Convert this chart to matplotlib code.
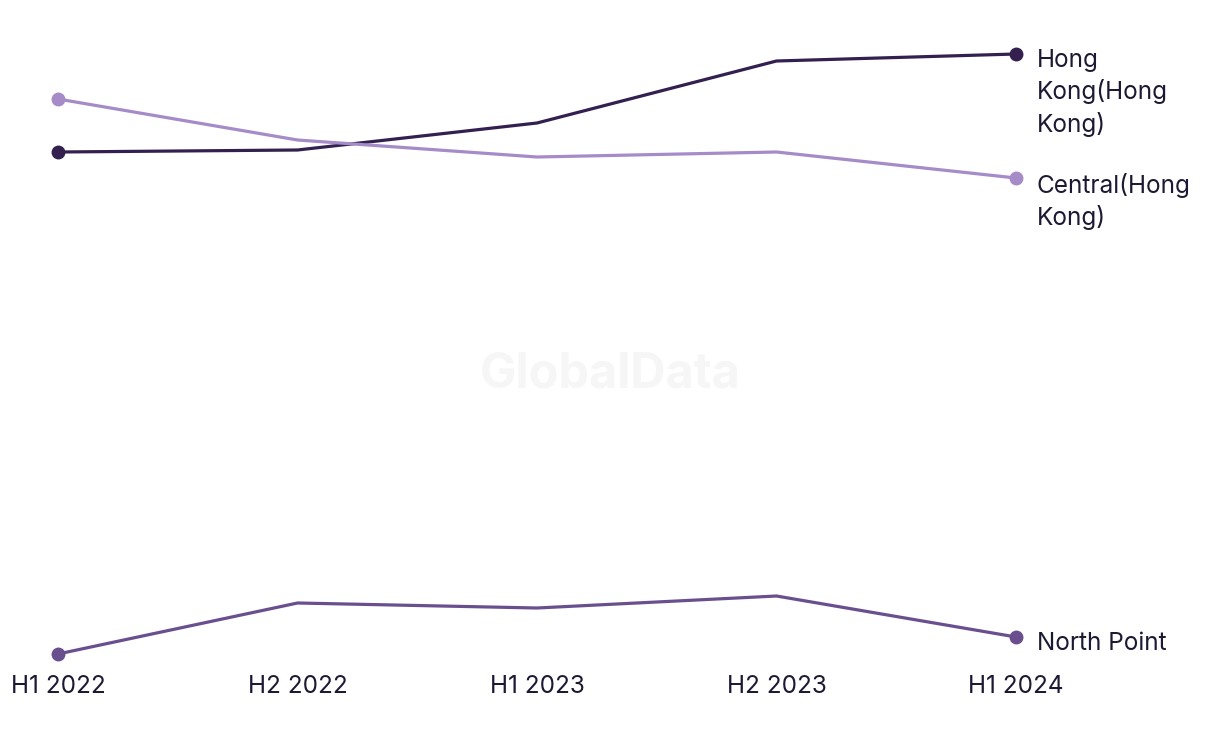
import matplotlib
matplotlib.use("Agg")
import matplotlib.pyplot as plt

# half-year periods on the x axis
periods = ["H1 2022", "H2 2022", "H1 2023", "H2 2023", "H1 2024"]

# series values (no y axis is shown, values read relative to each other)
hong_kong = [50.8, 51.0, 53.7, 59.9, 60.6]
central = [56.1, 52.0, 50.3, 50.8, 48.2]
north_point = [0.6, 5.7, 5.2, 6.4, 2.3]

series_names = ["Hong\nKong(Hong\nKong)", "Central(Hong\nKong)", "North Point"]
series_colors = ["#33204f", "#a58bc8", "#6a4f8f"]
text_color = "#1c1a33"

plt.rcParams["font.family"] = ["Inter", "DejaVu Sans"]

fig = plt.figure(figsize=(12.2, 7.44), dpi=100)
W, H = 1220, 744
left_px, right_px, top_px, bottom_px = 58, 1016, 30, 660
ax = fig.add_axes([left_px / W, 1 - bottom_px / H,
                   (right_px - left_px) / W, (bottom_px - top_px) / H])

# faint watermark
fig.text(0.5, 1 - 374 / H, "GlobalData", ha="center", va="center",
         fontsize=35, fontweight="bold", color="#f6f6f6", zorder=0)

x = list(range(len(periods)))
for values, name, color in zip([hong_kong, central, north_point], series_names, series_colors):
    ax.plot(x, values, color=color, linewidth=2.3, solid_capstyle="round", zorder=3,
            clip_on=False)
    ax.plot([x[0], x[-1]], [values[0], values[-1]], linestyle="none", marker="o",
            markersize=9, color=color, zorder=4, clip_on=False)
    ax.annotate(name, xy=(x[-1], values[-1]), xytext=(21, 5), textcoords="offset pixels",
                ha="left", va="top", fontsize=17.5, color=text_color, linespacing=1.37,
                annotation_clip=False)

ax.set_xlim(0, len(periods) - 1)
ax.set_ylim(0, 63)
ax.set_xticks(x)
ax.set_xticklabels(periods, fontsize=17.5, color=text_color)
ax.tick_params(axis="x", length=0, pad=11)
ax.set_yticks([])
for spine in ax.spines.values():
    spine.set_visible(False)
ax.patch.set_alpha(0)

fig.savefig("out.png", dpi=100)
